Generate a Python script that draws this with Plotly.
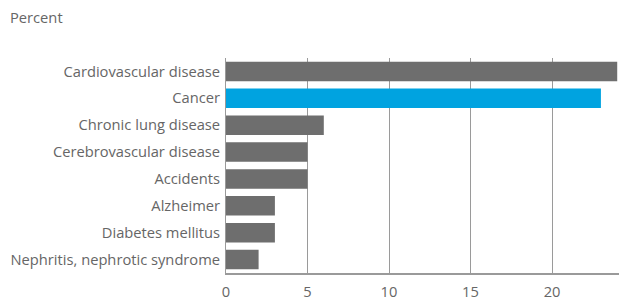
import plotly.graph_objects as go

categories = ["Cardiovascular disease", "Cancer", "Chronic lung disease",
              "Cerebrovascular disease", "Accidents", "Alzheimer",
              "Diabetes mellitus", "Nephritis, nephrotic syndrome"]
values = [24, 23, 6, 5, 5, 3, 3, 2]
bar_colors = ["#6e6e6e", "#00a3e0", "#6e6e6e", "#6e6e6e", "#6e6e6e",
              "#6e6e6e", "#6e6e6e", "#6e6e6e"]
x_ticks = [0, 5, 10, 15, 20]

FONT = "Open Sans"
TXT = "#666666"
FS = 14.7

# page body has an 8px margin, so the figure is drawn 8px in from the corner
OFF = 8
W, H = 627 - OFF, 297 - OFF
L, R, T, B = 226 - OFF, 0, 58 - OFF, 24
PW, PH = W - L - R, H - T - B

fig = go.Figure(go.Bar(
    x=values, y=categories, orientation="h",
    marker=dict(color=bar_colors, line=dict(width=0)),
    width=0.73,
))

fig.update_layout(
    width=W, height=H,
    margin=dict(l=L, r=R, t=T, b=B, autoexpand=False),
    paper_bgcolor="white", plot_bgcolor="white",
    font=dict(family=FONT, size=FS, color=TXT),
    showlegend=False,
    annotations=[dict(text="Percent", x=(0 - L) / PW, y=1 + (T - 9) / PH,
                      xref="paper", yref="paper",
                      showarrow=False, xanchor="left", yanchor="middle",
                      font=dict(family=FONT, size=FS, color=TXT))],
)

fig.update_xaxes(
    range=[0, 24.6], tickvals=x_ticks, showgrid=True, gridcolor="#9a9a9a",
    gridwidth=1, zeroline=False, showline=True, linecolor="#9a9a9a",
    linewidth=2, ticks="", automargin=False, ticklabelstandoff=4,
    tickfont=dict(size=FS, color=TXT),
)
fig.update_yaxes(
    categoryorder="array", categoryarray=categories, autorange="reversed",
    showgrid=False, zeroline=False, showline=True, linecolor="#9a9a9a",
    linewidth=1, ticks="", ticklabelstandoff=2, automargin=False,
    tickfont=dict(size=FS, color=TXT),
)

fig.write_html("out.html")
